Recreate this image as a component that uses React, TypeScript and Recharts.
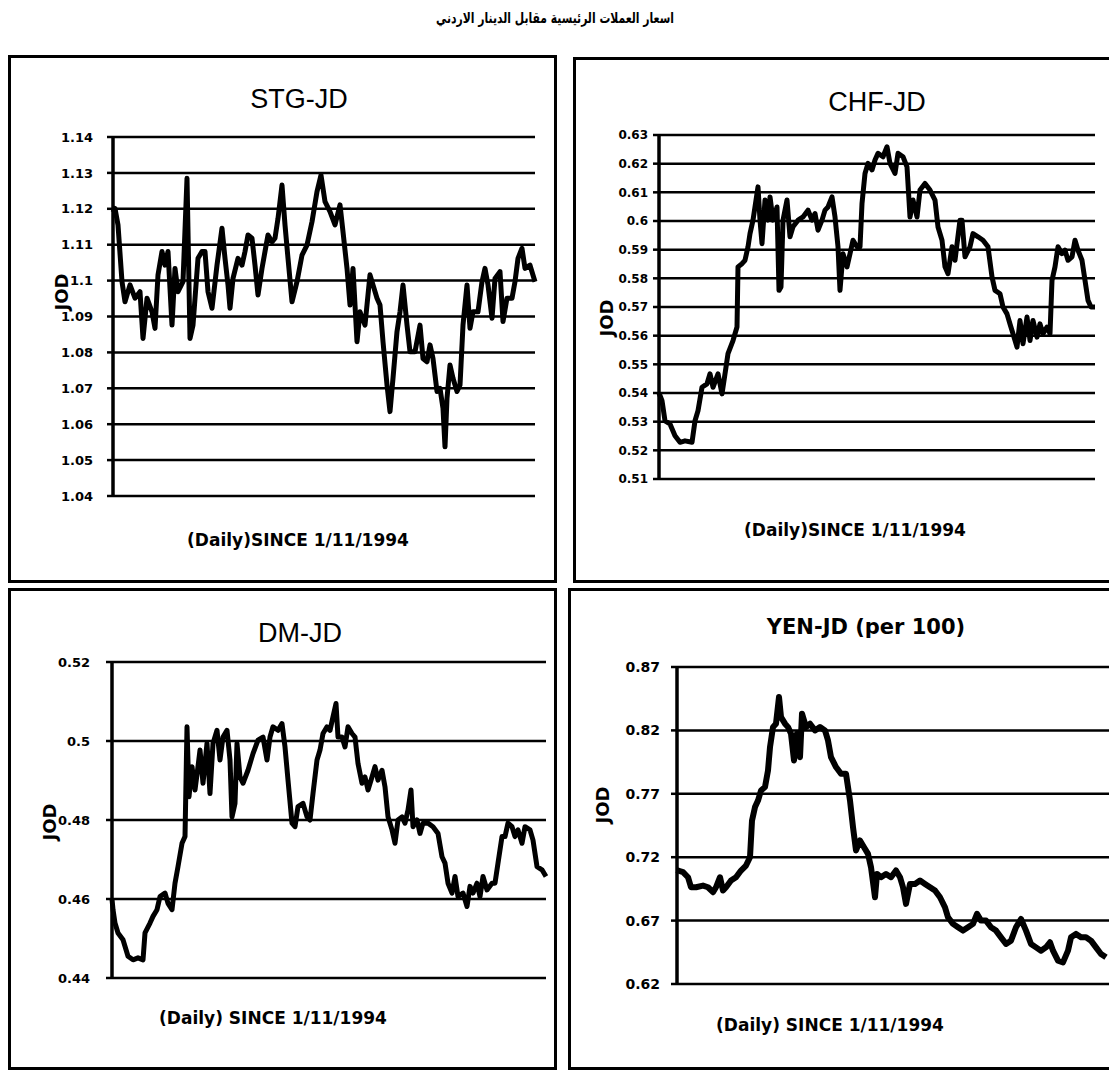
import React from "react";
import { LineChart, Line, XAxis, YAxis, CartesianGrid } from "recharts";

const FONT = "'Liberation Sans', Arial, sans-serif";
const WIDE = "'DejaVu Sans', 'Liberation Sans', sans-serif";

// ---- STG-JD (days since 1/11/1994, JOD) ----
const stgDays = [0,2,5,9,12,17,22,27,30,34,39,42,45,49,52,55,59,62,65,70,74,77,80,85,89,92,95,99,104,109,112,115,117,120,125,129,132,135,139,142,145,149,152,155,159,162,165,169,172,175,179,184,189,194,199,204,208,212,217,222,227,230,234,237,240,244,247,252,257,260,264,267,270,274,277,280,284,287,290,294,297,302,307,310,314,317,320,324,327,330,332,334,337,340,344,347,350,354,357,360,365,369,372,375,379,382,387,390,394,399,402,405,409,412,417,422];
const stgValues = [1.119,1.1201,1.1155,1.0997,1.0941,1.0988,1.0951,1.0969,1.0839,1.0951,1.0913,1.0867,1.1016,1.1081,1.1043,1.1081,1.0876,1.1034,1.0969,1.0997,1.1285,1.0839,1.0876,1.1062,1.1081,1.1081,1.0969,1.0923,1.1043,1.1146,1.1062,1.0988,1.0923,1.1006,1.1062,1.1043,1.1081,1.1127,1.1118,1.1043,1.096,1.1034,1.1081,1.1127,1.1108,1.1118,1.1173,1.1266,1.1155,1.1062,1.0941,1.0997,1.1071,1.1099,1.1164,1.1248,1.1294,1.122,1.1192,1.1155,1.1211,1.1136,1.1034,1.0932,1.1034,1.083,1.0913,1.0876,1.1016,1.0988,1.0951,1.0932,1.083,1.0709,1.0635,1.0728,1.0858,1.0913,1.0988,1.0876,1.0802,1.0802,1.0876,1.0783,1.0774,1.0821,1.0783,1.0691,1.07,1.0644,1.0537,1.0672,1.0765,1.0728,1.0691,1.0709,1.0876,1.0988,1.0867,1.0913,1.0913,1.0997,1.1034,1.0988,1.0895,1.1006,1.1025,1.0886,1.0951,1.0951,1.0997,1.1062,1.109,1.1034,1.1043,1.0997];
const stgTicks = [1.04,1.05,1.06,1.07,1.08,1.09,1.1,1.11,1.12,1.13,1.14];

// ---- CHF-JD ----
const chfDays = [0,3,6,11,16,21,26,33,36,39,43,48,51,54,59,63,66,69,74,78,79,83,86,89,91,94,96,99,101,103,106,109,111,114,118,120,122,124,128,131,134,139,144,149,153,156,159,163,166,169,173,176,179,181,184,188,191,194,198,201,203,206,209,213,216,219,224,228,231,236,239,244,248,251,254,258,261,266,271,276,279,283,286,289,293,296,301,303,306,311,314,319,324,329,333,336,341,344,348,351,354,358,361,364,368,371,374,378,381,384,388,391,393,396,399,403,406,409,413,416,419,423,426,429,432,436];
const chfValues = [0.54,0.5373,0.5303,0.5292,0.5251,0.5228,0.5233,0.5228,0.5303,0.5338,0.542,0.5432,0.5467,0.542,0.5467,0.5397,0.5467,0.5537,0.5583,0.563,0.584,0.5851,0.5863,0.591,0.5956,0.6003,0.6049,0.6119,0.6003,0.5921,0.6073,0.6003,0.6084,0.6003,0.6049,0.5758,0.577,0.6003,0.6073,0.5945,0.598,0.6003,0.6014,0.6038,0.6003,0.6026,0.5968,0.6003,0.6038,0.6049,0.6084,0.6014,0.591,0.5758,0.5886,0.584,0.5886,0.5933,0.591,0.591,0.6061,0.6166,0.6201,0.6178,0.6213,0.6236,0.6224,0.6259,0.6201,0.6166,0.6236,0.6224,0.6189,0.6014,0.6073,0.6014,0.6108,0.6131,0.6108,0.6073,0.5979,0.5933,0.584,0.5816,0.591,0.5863,0.6003,0.6003,0.5875,0.591,0.5956,0.5945,0.5933,0.591,0.5805,0.5758,0.5746,0.57,0.5676,0.5641,0.5607,0.556,0.5653,0.5572,0.5665,0.5583,0.5653,0.5595,0.5641,0.5607,0.563,0.5607,0.5793,0.584,0.591,0.5886,0.5898,0.5863,0.5875,0.5933,0.5898,0.5863,0.5793,0.5723,0.57,0.57];
const chfTicks = [0.51,0.52,0.53,0.54,0.55,0.56,0.57,0.58,0.59,0.6,0.61,0.62,0.63];

// ---- DM-JD ----
const dmDays = [0,1,3,6,11,16,21,26,31,33,38,41,45,48,53,56,60,63,66,70,73,75,77,80,83,86,88,91,95,98,101,105,108,111,115,118,120,123,125,128,131,136,141,146,151,155,158,161,166,170,173,176,180,183,186,191,195,198,201,205,208,211,215,218,221,224,226,230,233,236,240,243,246,250,253,256,260,263,266,270,273,276,280,283,286,290,293,296,299,301,305,308,311,316,321,326,330,333,336,340,343,346,351,355,358,361,365,368,371,375,380,383,386,390,393,396,400,403,406,410,413,418,421,425,430,434];
const dmValues = [0.46,0.4573,0.4539,0.4514,0.4497,0.4455,0.4446,0.4451,0.4446,0.4514,0.4539,0.4556,0.4573,0.4606,0.4615,0.4589,0.4573,0.464,0.4682,0.4741,0.4758,0.5036,0.4859,0.4935,0.4876,0.4935,0.4977,0.4893,0.4994,0.4867,0.4994,0.5027,0.4952,0.501,0.5027,0.4952,0.4808,0.4842,0.4994,0.4909,0.4893,0.4926,0.4968,0.5002,0.501,0.4952,0.501,0.5036,0.5027,0.5044,0.4985,0.4901,0.4792,0.4783,0.4834,0.4842,0.4808,0.48,0.4867,0.4952,0.4977,0.5019,0.5036,0.5027,0.5061,0.5095,0.501,0.501,0.4985,0.5036,0.5019,0.501,0.4943,0.4893,0.4909,0.4876,0.4909,0.4935,0.4901,0.4926,0.4884,0.4808,0.4775,0.4741,0.48,0.4808,0.4792,0.4825,0.4876,0.4783,0.48,0.4766,0.4792,0.4792,0.4783,0.4766,0.4707,0.4691,0.464,0.4615,0.4657,0.4606,0.4615,0.4581,0.4632,0.4615,0.464,0.4606,0.4657,0.4623,0.464,0.464,0.4691,0.4758,0.4758,0.4792,0.4783,0.4758,0.4775,0.4741,0.4783,0.4775,0.4749,0.4682,0.4674,0.4657];
const dmTicks = [0.44,0.46,0.48,0.5,0.52];

// ---- YEN-JD (per 100) ----
const yenDays = [0,1,6,11,14,19,26,31,36,39,43,46,49,54,59,64,69,73,75,78,81,84,88,91,93,96,99,102,104,108,111,114,117,120,123,125,129,133,138,143,148,151,154,159,164,169,173,176,179,183,187,191,194,198,200,204,209,214,219,223,226,229,233,238,243,248,253,258,263,268,271,276,281,286,291,296,300,304,309,314,319,324,329,334,339,344,349,354,359,364,369,373,376,381,386,391,394,399,404,409,414,419,424,429];
const yenValues = [0.71,0.7095,0.7082,0.7042,0.6963,0.6963,0.6976,0.6963,0.6924,0.6963,0.7042,0.6937,0.6963,0.7016,0.7042,0.7095,0.7134,0.72,0.7489,0.7595,0.7647,0.7726,0.7753,0.7884,0.8068,0.8226,0.8253,0.8463,0.8305,0.8253,0.8226,0.8174,0.7963,0.8174,0.7989,0.8332,0.8226,0.8253,0.82,0.8226,0.82,0.8121,0.7989,0.7911,0.7858,0.7858,0.7647,0.7437,0.7253,0.7332,0.7279,0.7226,0.7121,0.6884,0.7068,0.7042,0.7068,0.7042,0.7095,0.7042,0.6963,0.6832,0.6989,0.6989,0.7016,0.6989,0.6963,0.6937,0.6884,0.6805,0.6726,0.6674,0.6647,0.6621,0.6647,0.6674,0.6753,0.67,0.67,0.6647,0.6621,0.6568,0.6516,0.6542,0.6647,0.6713,0.6621,0.6516,0.6489,0.6463,0.6489,0.6529,0.6463,0.6384,0.6371,0.6463,0.6568,0.6595,0.6568,0.6568,0.6542,0.6489,0.6437,0.6411];
const yenTicks = [0.62,0.67,0.72,0.77,0.82,0.87];

const zip = (days: number[], vals: number[]) => days.map((d, i) => ({ day: d, v: vals[i] }));

type PanelProps = {
  data: { day: number; v: number }[];
  ticks: number[];
  xMax: number;
  x0: number; y0: number; x1: number; y1: number;
  tickMargin: number;
  fontSize: number;
  lineWidth: number;
};

function Panel({ data, ticks, xMax, x0, y0, x1, y1, tickMargin, fontSize, lineWidth }: PanelProps) {
  const w = x1 - x0 + 80;
  const h = y1 - y0 + 20;
  return (
    <div style={{ position: "absolute", left: x0 - 70, top: y0 - 10 }}>
      <LineChart width={w} height={h} data={data} margin={{ top: 10, right: 10, bottom: 10, left: 10 }}>
        <CartesianGrid vertical={false} stroke="#000" strokeWidth={2.5} />
        <XAxis type="number" dataKey="day" domain={[0, xMax]} hide />
        <YAxis
          type="number"
          width={60}
          domain={[ticks[0], ticks[ticks.length - 1]]}
          ticks={ticks}
          interval={0}
          tickFormatter={(t: number) => String(t)}
          tick={{ fill: "#000", fontSize, fontWeight: 700, fontFamily: WIDE }}
          tickSize={6}
          tickMargin={tickMargin}
          tickLine={{ stroke: "#000", strokeWidth: 2.5 }}
          axisLine={{ stroke: "#000", strokeWidth: 3.5 }}
        />
        <Line type="linear" dataKey="v" stroke="#000" strokeWidth={lineWidth} strokeLinejoin="round" dot={false} isAnimationActive={false} />
      </LineChart>
    </div>
  );
}

const Txt = ({ x, y, size, bold, children, rotate, family, sx }: any) => (
  <div
    style={{
      position: "absolute",
      left: x,
      top: y,
      transform: `translate(-50%, -50%)${rotate ? " rotate(-90deg)" : ""}${sx ? ` scaleX(${sx})` : ""}`,
      fontFamily: family || FONT,
      fontSize: size,
      fontWeight: bold ? 700 : 400,
      whiteSpace: "nowrap",
      color: "#000",
      lineHeight: 1,
    }}
  >
    {children}
  </div>
);

const Box = ({ l, t, r, b }: any) => (
  <div style={{ position: "absolute", left: l, top: t, width: r - l, height: b - t, border: "3px solid #000", boxSizing: "border-box" }} />
);

export default function App() {
  return (
    <div style={{ position: "absolute", left: 0, top: 0, width: 1109, height: 1078, overflow: "hidden", background: "#fff" }}>
      <div
        style={{
          position: "absolute", left: 555, top: 18, transform: "translate(-50%, -50%) scaleX(0.72)",
          fontFamily: "'DejaVu Sans', sans-serif", fontWeight: 700, fontSize: 15, direction: "rtl", whiteSpace: "nowrap",
        }}
      >
        اسعار العملات الرئيسية مقابل الدينار الاردني
      </div>

      <Box l={8} t={55} r={557} b={583} />
      <Box l={573} t={57} r={1125} b={583} />
      <Box l={8} t={588} r={557} b={1070} />
      <Box l={568} t={588} r={1125} b={1070} />

      <Txt x={299} y={99} size={27}>STG-JD</Txt>
      <Txt x={877} y={102} size={27}>CHF-JD</Txt>
      <Txt x={300} y={633} size={27}>DM-JD</Txt>
      <Txt x={866} y={627} size={21} bold family={WIDE}>YEN-JD (per 100)</Txt>

      <Txt x={298} y={540} size={17} bold family={WIDE}>(Daily)SINCE 1/11/1994</Txt>
      <Txt x={855} y={530} size={17} bold family={WIDE}>(Daily)SINCE 1/11/1994</Txt>
      <Txt x={273} y={1018} size={17} bold family={WIDE}>(Daily) SINCE 1/11/1994</Txt>
      <Txt x={830} y={1025} size={17} bold family={WIDE}>(Daily) SINCE 1/11/1994</Txt>

      <Txt x={62} y={292} size={18} bold family={WIDE} rotate>JOD</Txt>
      <Txt x={607} y={318} size={18} bold family={WIDE} rotate>JOD</Txt>
      <Txt x={50} y={822} size={18} bold family={WIDE} rotate>JOD</Txt>
      <Txt x={603} y={805} size={18} bold family={WIDE} rotate>JOD</Txt>

      <Panel data={zip(stgDays, stgValues)} ticks={stgTicks} xMax={422} x0={113} y0={137} x1={535} y1={496} tickMargin={14} fontSize={13} lineWidth={5} />
      <Panel data={zip(chfDays, chfValues)} ticks={chfTicks} xMax={436} x0={659} y0={135} x1={1095} y1={479} tickMargin={5} fontSize={12} lineWidth={5} />
      <Panel data={zip(dmDays, dmValues)} ticks={dmTicks} xMax={434} x0={112} y0={662} x1={546} y1={978} tickMargin={16} fontSize={13} lineWidth={5} />
      <Panel data={zip(yenDays, yenValues)} ticks={yenTicks} xMax={440} x0={677} y0={667} x1={1117} y1={984} tickMargin={11} fontSize={14} lineWidth={6} />
    </div>
  );
}
